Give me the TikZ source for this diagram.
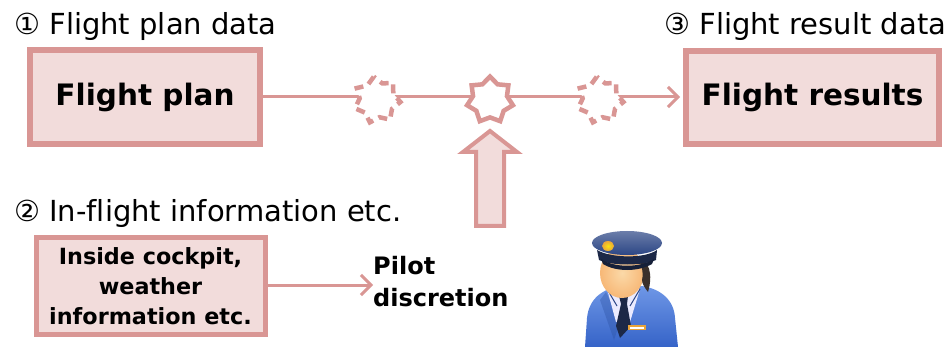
\documentclass[tikz,border=0pt]{standalone}
\usepackage{fontspec}
\setmainfont[Ligatures=NoCommon]{DejaVu Sans}
\usetikzlibrary{arrows.meta,shapes.geometric}
\definecolor{roseline}{HTML}{D99694}
\definecolor{rosefill}{HTML}{F2DCDB}
\definecolor{capnavy}{HTML}{2C4685}
\definecolor{capdark}{HTML}{1C2847}
\definecolor{jacketblue}{HTML}{3563C8}
\definecolor{jacketlight}{HTML}{6F97E6}
\definecolor{skin}{HTML}{F7B877}
\definecolor{skinlight}{HTML}{FBD9A8}
\definecolor{hair}{HTML}{3B302B}
\definecolor{gold}{HTML}{E9A43A}
\begin{document}
\begin{tikzpicture}[x=1pt,y=-1pt,
  databox/.style={draw=roseline, fill=rosefill, line width=6pt, inner sep=0pt,
    font=\bfseries\fontsize{29.5}{34}\selectfont},
  infobox/.style={draw=roseline, fill=rosefill, line width=5pt, inner sep=0pt,
    align=center, font=\bfseries\fontsize{22.3}{30}\selectfont},
  caption/.style={anchor=base west, inner sep=0pt, font=\fontsize{29}{34}\selectfont},
  flow/.style={draw=roseline, line width=3pt,
    -{Straight Barb[length=10pt,width=20pt,line width=3pt]}},
  event/.style={star, star points=7, star point ratio=1.35, minimum size=47pt,
    inner sep=0pt, draw=roseline, fill=white, line width=4.5pt},
  eventdash/.style={event, dash pattern=on 9pt off 6pt},
]
\useasboundingbox (0,0) rectangle (952,347);

% captions
\node[caption] (cap1) at (14,35) {① Flight plan data};
\node[caption] (cap2) at (14,222) {② In-flight information etc.};
\node[caption] (cap3) at (664,35) {③ Flight result data};

% data boxes
\node[databox, minimum width=230pt, minimum height=94pt] (plan) at (145,97) {Flight plan};
\node[databox, minimum width=253pt, minimum height=93pt] (result) at (812.5,97.5) {Flight results};
\node[infobox, minimum width=229pt, minimum height=96pt] (info) at (150.5,286)
  {Inside cockpit,\\weather\\information etc.};

% main flow line with decision points
\coordinate (resin) at (result.west |- 0,97);
\draw[flow] (plan.east |- 0,97) -- ([xshift=-3pt]resin);
\node[eventdash, rotate=8] (ev1) at (377,100) {};
\node[event] (ev2) at (490,100) {};
\node[eventdash, rotate=8] (ev3) at (600,100) {};

% pilot discretion
\node[anchor=north west, inner sep=0pt, align=left,
  font=\bfseries\fontsize{24}{32}\selectfont] (pd) at (373,256) {Pilot\\discretion};
\draw[flow] (info.east |- 0,285) -- (pd.west |- 0,285);

% block arrow pushing into the middle decision
\draw[draw=roseline, fill=rosefill, line width=4pt, line join=miter]
  (490,131) -- (517,152) -- (504,152) -- (504,226) -- (476,226) -- (476,152)
  -- (463,152) -- cycle;

% pilot figure
\begin{scope}
  % jacket
  \shade[top color=jacketlight, bottom color=jacketblue]
    (585,347) -- (587,318) .. controls (589,298) and (603,289) .. (620,286)
    -- (642,286) .. controls (661,289) and (674,300) .. (675,318) -- (678,347) -- cycle;
  % lapel shadow
  \fill[jacketblue!80!black, opacity=0.35] (606,292) -- (620,322) -- (614,340) -- (600,300) -- cycle;
  % shirt
  \fill[white!92!blue] (607,289) -- (640,289) -- (630,322) -- (616,322) -- cycle;
  % tie
  \fill[capdark] (619,296) -- (628,296) -- (627,304) -- (631,326) -- (620,338) -- (616,326) -- (621,304) -- cycle;
  % collar lines
  \draw[capnavy, line width=1pt] (607,289) -- (617,306);
  \draw[capnavy, line width=1pt] (640,289) -- (630,306);
  % stripe on the jacket
  \fill[gold] (628,325) rectangle (646,330);
  \fill[white] (630,326.5) rectangle (644,328.5);
  % face
  \shade[inner color=skinlight, outer color=skin] (622,273) ellipse [x radius=22, y radius=25];
  % hair on the right side
  \fill[hair] (636,256) .. controls (650,260) and (653,275) .. (648,292)
    .. controls (645,288) and (642,284) .. (642,280) .. controls (644,272) and (641,262) .. (636,256) -- cycle;
  % cap
  \shade[top color=capnavy!70!white, bottom color=capnavy] (627,243) ellipse [x radius=35, y radius=12];
  \fill[capdark] (597,250) .. controls (610,258) and (645,259) .. (657,250)
    -- (656,260) .. controls (642,266) and (612,266) .. (599,260) -- cycle;
  \fill[capdark!80!black] (601,259) .. controls (614,268) and (640,268) .. (654,259)
    -- (652,264) .. controls (638,272) and (616,272) .. (603,264) -- cycle;
  % cap badge
  \shade[inner color=yellow!70!gold, outer color=gold] (608,246) ellipse [x radius=6, y radius=5];
\end{scope}
\end{tikzpicture}
\end{document}
